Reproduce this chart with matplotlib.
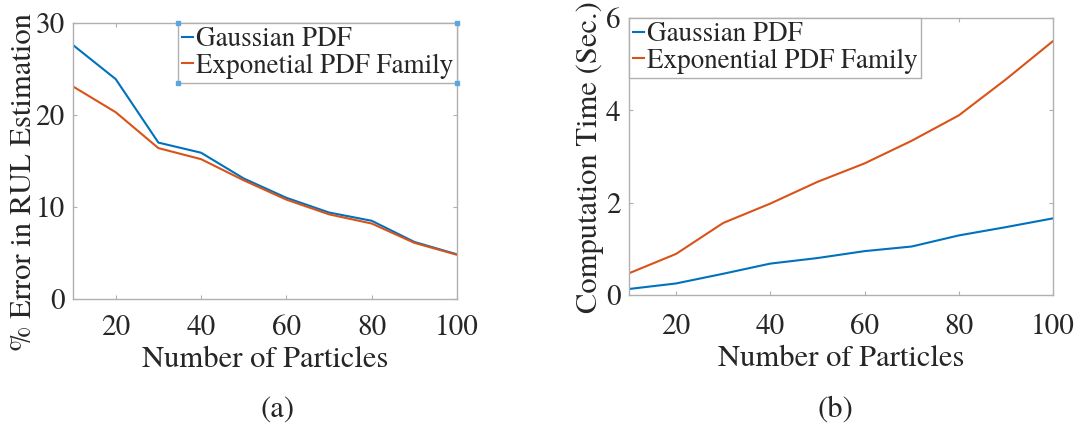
import matplotlib.pyplot as plt
from matplotlib.lines import Line2D

# number of particles used by the filter
particles = [10, 20, 30, 40, 50, 60, 70, 80, 90, 100]

# (a) error in RUL estimation, percent
err_gauss = [27.6, 23.9, 17.0, 15.9, 13.1, 11.0, 9.4, 8.5, 6.2, 4.85]
err_expo = [23.1, 20.3, 16.4, 15.2, 12.9, 10.8, 9.2, 8.2, 6.1, 4.8]

# (b) computation time, seconds
time_gauss = [0.13, 0.25, 0.46, 0.68, 0.80, 0.95, 1.05, 1.29, 1.47, 1.66]
time_expo = [0.47, 0.89, 1.56, 1.98, 2.45, 2.85, 3.34, 3.89, 4.67, 5.50]

xticks = [20, 40, 60, 80, 100]

plt.rcParams['font.family'] = ['TeX Gyre Termes', 'STIXGeneral', 'DejaVu Serif']
blue = '#0072BD'
orange = '#D95319'
spine_col = '#b0b0b0'
text_col = '#262626'

fig = plt.figure(figsize=(10.79, 4.44), dpi=100)
ax1 = fig.add_axes([0.0677, 0.3266, 0.3559, 0.6216])
ax2 = fig.add_axes([0.5829, 0.3356, 0.3930, 0.6239])


def style_axes(ax, yticks, xpad):
    ax.set_xlim(10, 100)
    ax.set_ylim(yticks[0], yticks[-1])
    ax.set_xticks(xticks)
    ax.set_yticks(yticks)
    ax.tick_params(direction='in', length=3, width=0.8, color=spine_col,
                   labelcolor=text_col, labelsize=21, top=True, right=True,
                   pad=6)
    ax.tick_params(axis='x', pad=xpad)
    for s in ax.spines.values():
        s.set_color(spine_col)
        s.set_linewidth(1.0)


def add_legend(ax, loc):
    leg = ax.legend(loc=loc, borderaxespad=0, fontsize=19.5,
                    handlelength=0.4, handletextpad=0.1, labelspacing=0.05,
                    borderpad=0.15, fancybox=False, framealpha=1,
                    edgecolor=spine_col)
    for t in leg.get_texts():
        t.set_color(text_col)
    return leg


ax1.plot(particles, err_gauss, color=blue, lw=1.5, label='Gaussian PDF')
ax1.plot(particles, err_expo, color=orange, lw=1.5, label='Exponetial PDF Family')
style_axes(ax1, [0, 10, 20, 30], xpad=11)
ax1.set_xlabel('Number of Particles', fontsize=22, color=text_col, labelpad=3)
ax1.set_ylabel('% Error in RUL Estimation', fontsize=22, color=text_col)
ax1.yaxis.label.set_va('center')
ax1.yaxis.set_label_coords(-0.127, 0.424)
leg1 = add_legend(ax1, 'upper right')

ax2.plot(particles, time_gauss, color=blue, lw=1.5, label='Gaussian PDF')
ax2.plot(particles, time_expo, color=orange, lw=1.5, label='Exponential PDF Family')
style_axes(ax2, [0, 2, 4, 6], xpad=13)
ax2.set_xlabel('Number of Particles', fontsize=22, color=text_col, labelpad=3)
ax2.set_ylabel('Computation Time (Sec.)', fontsize=22, color=text_col)
ax2.yaxis.label.set_va('center')
ax2.yaxis.set_label_coords(-0.092, 0.497)
leg2 = add_legend(ax2, 'upper left')

fig.text(278 / 1079, 1 - 410 / 444, '(a)', fontsize=22, color=text_col,
         ha='center', va='center')
fig.text(835 / 1079, 1 - 410 / 444, '(b)', fontsize=22, color=text_col,
         ha='center', va='center')

# small handles on the corners of the selected legend box
fig.canvas.draw()
bb = leg1.get_frame().get_window_extent().transformed(fig.transFigure.inverted())
fig.add_artist(Line2D([bb.x0, bb.x1, bb.x0, bb.x1], [bb.y0, bb.y0, bb.y1, bb.y1],
                      ls='none', marker='s', ms=2.5, color='#5aa7e0',
                      transform=fig.transFigure))

fig.savefig('out.png', dpi=100)
